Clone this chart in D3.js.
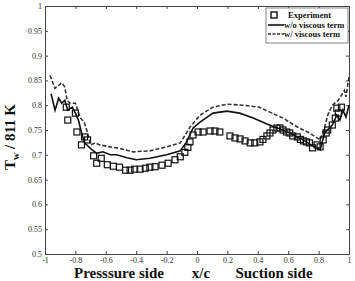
<!DOCTYPE html>
<html><head><meta charset="utf-8">
<script src="https://cdn.jsdelivr.net/npm/d3@7/dist/d3.min.js"></script>
<style>body{margin:0;background:#fff}svg{display:block}</style>
</head><body>
<script>
const xTicks = [-1,-0.8,-0.6,-0.4,-0.2,0,0.2,0.4,0.6,0.8,1];
const xTickLabels = ["-1","-0.8","-0.6","-0.4","-0.2","0","0.2","0.4","0.6","0.8","1"];
const yTicks = [0.5,0.55,0.6,0.65,0.7,0.75,0.8,0.85,0.9,0.95,1];
const yTickLabels = ["0.5","0.55","0.6","0.65","0.7","0.75","0.8","0.85","0.9","0.95","1"];

const expX = [-0.86,-0.85,-0.80,-0.79,-0.76,-0.74,-0.72,-0.68,-0.66,-0.63,-0.59,-0.55,-0.51,-0.47,-0.44,-0.41,-0.375,-0.34,-0.31,-0.276,-0.23,-0.19,-0.145,-0.11,-0.08,-0.06,-0.046,-0.026,0.007,0.04,0.086,0.118,0.15,0.217,0.25,0.283,0.316,0.35,0.38,0.414,0.434,0.46,0.48,0.50,0.526,0.546,0.566,0.59,0.61,0.63,0.66,0.68,0.70,0.72,0.74,0.76,0.79,0.81,0.83,0.85,0.86,0.89,0.91,0.92,0.93,0.95];
const expY = [0.796,0.77,0.784,0.746,0.72,0.736,0.73,0.698,0.683,0.693,0.68,0.677,0.675,0.669,0.669,0.671,0.671,0.673,0.675,0.676,0.679,0.683,0.690,0.696,0.705,0.715,0.726,0.74,0.746,0.746,0.748,0.748,0.746,0.738,0.734,0.732,0.728,0.724,0.724,0.726,0.731,0.738,0.744,0.75,0.754,0.754,0.75,0.746,0.744,0.738,0.736,0.731,0.728,0.726,0.724,0.714,0.72,0.716,0.73,0.744,0.75,0.76,0.774,0.794,0.784,0.796];

const noViscX = [-0.96,-0.934,-0.91,-0.89,-0.87,-0.85,-0.82,-0.80,-0.78,-0.76,-0.74,-0.69,-0.66,-0.62,-0.57,-0.53,-0.46,-0.40,-0.31,-0.2,-0.11,-0.07,-0.026,0.02,0.105,0.197,0.28,0.37,0.46,0.51,0.55,0.61,0.66,0.72,0.76,0.79,0.81,0.84,0.89,0.92,0.94,0.96,0.98,1.0];
const noViscY = [0.823,0.79,0.814,0.804,0.81,0.79,0.796,0.784,0.77,0.745,0.724,0.71,0.703,0.706,0.70,0.70,0.694,0.69,0.693,0.70,0.708,0.725,0.754,0.766,0.784,0.788,0.784,0.774,0.762,0.756,0.752,0.744,0.736,0.726,0.718,0.714,0.71,0.744,0.76,0.78,0.77,0.79,0.776,0.80];

const viscX = [-0.967,-0.934,-0.91,-0.89,-0.87,-0.855,-0.835,-0.80,-0.77,-0.74,-0.72,-0.70,-0.67,-0.64,-0.57,-0.51,-0.42,-0.31,-0.2,-0.11,-0.046,0.02,0.105,0.197,0.30,0.41,0.48,0.566,0.66,0.74,0.81,0.84,0.86,0.89,0.93,0.95,0.97,0.98,1.0];
const viscY = [0.86,0.834,0.84,0.845,0.837,0.81,0.804,0.804,0.776,0.764,0.744,0.72,0.724,0.72,0.716,0.713,0.706,0.708,0.716,0.724,0.756,0.78,0.796,0.802,0.80,0.796,0.786,0.774,0.756,0.744,0.73,0.756,0.78,0.80,0.81,0.82,0.83,0.817,0.857];

const legendLabels = ["Experiment","w/o viscous term","w/ viscous term"];

const W = 355, H = 281;
const L = 45, R = 349, T = 6, B = 254;
const svg = d3.select("body").append("svg").attr("width", W).attr("height", H);
const x = d3.scaleLinear().domain([-1,1]).range([L,R]);
const y = d3.scaleLinear().domain([0.5,1]).range([B,T]);
const serif = "'Liberation Serif','DejaVu Serif',serif";

// axes (inward ticks)
const fmtX = (d,i) => xTickLabels[i];
const fmtY = (d,i) => yTickLabels[i];
const gB = svg.append("g").attr("transform",`translate(0,${B})`)
  .call(d3.axisBottom(x).tickValues(xTicks).tickFormat(fmtX).tickSizeInner(-3).tickSizeOuter(0).tickPadding(3));
const gT = svg.append("g").attr("transform",`translate(0,${T})`)
  .call(d3.axisTop(x).tickValues(xTicks).tickFormat("").tickSizeInner(-3).tickSizeOuter(0));
const gL = svg.append("g").attr("transform",`translate(${L},0)`)
  .call(d3.axisLeft(y).tickValues(yTicks).tickFormat(fmtY).tickSizeInner(-3).tickSizeOuter(0).tickPadding(3));
const gR = svg.append("g").attr("transform",`translate(${R},0)`)
  .call(d3.axisRight(y).tickValues(yTicks).tickFormat("").tickSizeInner(-3).tickSizeOuter(0));
[gB,gT,gL,gR].forEach(g=>{
  g.selectAll("path").attr("stroke","#444").attr("stroke-width",1);
  g.selectAll("line").attr("stroke","#444");
  g.selectAll("text").attr("font-family",serif).attr("font-size",8).style("fill","#333");
});

// lines
const line = d3.line().x(d=>x(d[0])).y(d=>y(d[1]));
svg.append("path").datum(noViscX.map((v,i)=>[v,noViscY[i]]))
  .attr("d",line).attr("fill","none").attr("stroke","#111").attr("stroke-width",1.6);
svg.append("path").datum(viscX.map((v,i)=>[v,viscY[i]]))
  .attr("d",line).attr("fill","none").attr("stroke","#333").attr("stroke-width",1.6).attr("stroke-dasharray","4,2");

// experiment squares
const s = 6;
svg.append("g").selectAll("rect").data(expX.map((v,i)=>[v,expY[i]])).join("rect")
  .attr("x",d=>x(d[0])-s/2).attr("y",d=>y(d[1])-s/2).attr("width",s).attr("height",s)
  .attr("fill","none").attr("stroke","#111").attr("stroke-width",1.2);

// legend
const lg = svg.append("g");
lg.append("rect").attr("x",266).attr("y",8).attr("width",82).attr("height",35)
  .attr("fill","#fff").attr("stroke","#666").attr("stroke-width",0.8);
lg.append("rect").attr("x",271).attr("y",12).attr("width",6).attr("height",6)
  .attr("fill","none").attr("stroke","#111").attr("stroke-width",1.4);
lg.append("line").attr("x1",268).attr("x2",284).attr("y1",25).attr("y2",25)
  .attr("stroke","#111").attr("stroke-width",1.6);
lg.append("line").attr("x1",268).attr("x2",284).attr("y1",34).attr("y2",34)
  .attr("stroke","#333").attr("stroke-width",1.6).attr("stroke-dasharray","3,1.5");
legendLabels.forEach((t,i)=>{
  lg.append("text").attr("x", i===0 ? 288 : 284).attr("y",[18,28,37][i]).text(t)
    .attr("font-family",serif).attr("font-weight","bold").attr("font-size",8.5).attr("fill","#111");
});

// axis titles
const tb = {"font-family":serif,"font-weight":"bold","font-size":15,"fill":"#111"};
function st(sel){ for(const k in tb) sel.attr(k,tb[k]); return sel; }
st(svg.append("text").attr("x",119).attr("y",278).attr("text-anchor","middle").text("Presssure side"));
st(svg.append("text").attr("x",201).attr("y",278).attr("text-anchor","middle").text("x/c"));
st(svg.append("text").attr("x",274).attr("y",278).attr("text-anchor","middle").text("Suction side"));
const yl = st(svg.append("text").attr("transform","translate(15,137) rotate(-90)").attr("text-anchor","middle"));
yl.append("tspan").text("T");
yl.append("tspan").attr("font-size",10).attr("dy",4).text("w");
yl.append("tspan").attr("dy",-4).text(" / 811 K");
</script>
</body></html>
